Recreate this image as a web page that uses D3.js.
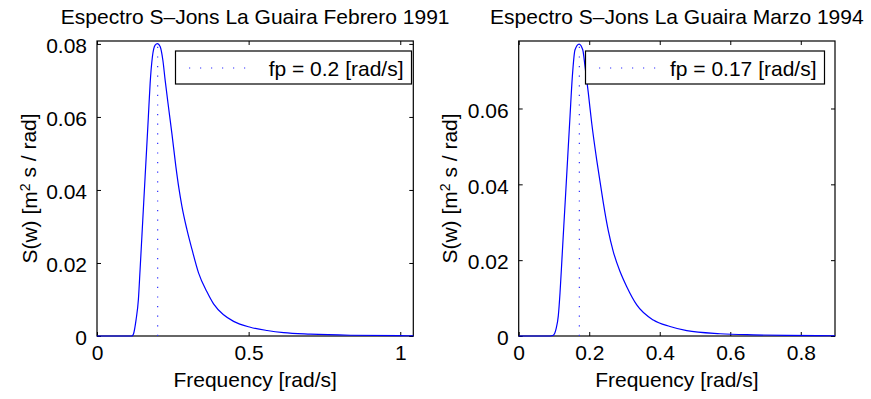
<!DOCTYPE html>
<html>
<head>
<meta charset="utf-8">
<script src="https://cdn.jsdelivr.net/npm/d3@7"></script>
<style>
  body { margin: 0; background: #fff; }
  svg text { font-family: "Liberation Sans", Arial, sans-serif; fill: #000; }
</style>
</head>
<body>
<div id="chart"></div>
<script>
// values
var freqFeb = [0, 0.05, 0.1147, 0.1200, 0.1289, 0.1365, 0.1421, 0.1481, 0.1540, 0.1633, 0.1692, 0.1752, 0.1827, 0.1917, 0.1993, 0.2082, 0.2171, 0.2247, 0.2356, 0.2469, 0.2601, 0.2700, 0.2799, 0.2964, 0.3130, 0.3348, 0.3625, 0.3843, 0.4174, 0.4504, 0.5056, 0.5608, 0.6157, 0.7039, 0.8361, 1.0013, 1.0433];
var specFeb = [0, 0, 0, 0.0005, 0.0045, 0.0100, 0.0182, 0.0274, 0.0365, 0.0507, 0.0598, 0.0692, 0.0765, 0.0797, 0.0801, 0.0793, 0.0756, 0.0701, 0.0628, 0.0555, 0.0464, 0.0405, 0.0356, 0.0292, 0.0238, 0.0173, 0.0121, 0.0088, 0.0058, 0.0040, 0.0024, 0.0015, 0.0009, 0.0005, 0.0002, 0.00008, 0.00007];

var freqMar = [0, 0.05, 0.089, 0.0982, 0.1058, 0.1123, 0.1172, 0.1226, 0.1279, 0.1328, 0.1396, 0.1455, 0.1521, 0.1597, 0.1712, 0.1816, 0.1881, 0.1974, 0.2071, 0.2213, 0.2335, 0.2400, 0.2542, 0.2684, 0.2874, 0.3064, 0.3348, 0.3818, 0.4292, 0.4766, 0.5710, 0.6655, 0.7603, 0.897];
var specMar = [0, 0, 0, 0.0002, 0.0018, 0.0053, 0.0114, 0.0202, 0.0290, 0.0369, 0.0482, 0.0579, 0.0684, 0.0755, 0.0770, 0.0755, 0.0711, 0.0641, 0.0561, 0.0464, 0.0390, 0.0351, 0.0277, 0.0222, 0.0170, 0.0130, 0.0082, 0.0042, 0.0025, 0.0014, 0.0006, 0.0003, 0.00015, 0.00007];

var peakFreqs = [0.2, 0.172];
var legendLabels = ["fp = 0.2 [rad/s]", "fp = 0.17 [rad/s]"];
var titles = ["Espectro S\u2013Jons La Guaira Febrero 1991", "Espectro S\u2013Jons La Guaira Marzo 1994"];
var xMaxes = [1.043, 0.897];
var yMaxes = [0.0808, 0.0778];
var xTicksFeb = [0, 0.5, 1];
var xTicksMar = [0, 0.2, 0.4, 0.6, 0.8];
var yTicksFeb = [0, 0.02, 0.04, 0.06, 0.08];
var yTicksMar = [0, 0.02, 0.04, 0.06];

var svgWidth = 871;
var svgHeight = 399;

var svg = d3.select("#chart")
  .append("svg")
  .attr("width", svgWidth)
  .attr("height", svgHeight);

// one panel per month
var panels = [
  {left: 97, freq: freqFeb, spec: specFeb, xTicks: xTicksFeb, yTicks: yTicksFeb,
   legendX: 175.5, legendW: 236, ylabelX: 36.5},
  {left: 518.7, freq: freqMar, spec: specMar, xTicks: xTicksMar, yTicks: yTicksMar,
   legendX: 585.5, legendW: 239, ylabelX: 457}
];
var plotTop = 41, plotBottom = 336, plotW = 316.3;

panels.forEach(function(p, i) {
  var width = plotW;
  var height = plotBottom - plotTop;
  var g = svg.append("g")
    .attr("transform", `translate(${p.left}, ${plotTop})`);

  var x = d3.scaleLinear().domain([0, xMaxes[i]]).range([0, width]);
  var y = d3.scaleLinear().domain([0, yMaxes[i]]).range([height, 0]);

  var fmt = d => d === 0 ? "0" : String(+d.toFixed(2));

  // axes, inward ticks on all sides
  var bottomAxis = d3.axisBottom(x).tickValues(p.xTicks).tickSize(-4).tickPadding(9).tickFormat(fmt);
  var topAxis = d3.axisTop(x).tickValues(p.xTicks).tickSize(-4).tickFormat("");
  var leftAxis = d3.axisLeft(y).tickValues(p.yTicks).tickSize(-4).tickPadding(10).tickFormat(fmt);
  var rightAxis = d3.axisRight(y).tickValues(p.yTicks).tickSize(-4).tickFormat("");

  var axes = [
    g.append("g").attr("transform", `translate(0, ${height})`).call(bottomAxis),
    g.append("g").call(topAxis),
    g.append("g").call(leftAxis),
    g.append("g").attr("transform", `translate(${width}, 0)`).call(rightAxis)
  ];
  axes.forEach(function(a) {
    a.select(".domain").remove();
    a.selectAll("line").attr("stroke", "#000").attr("stroke-width", 1);
    a.selectAll("text").attr("font-size", "21px").attr("fill", "#000")
      .attr("font-family", "Liberation Sans, Arial, sans-serif");
  });
  axes[0].selectAll("text").attr("dy", "0.71em");
  axes[2].selectAll("text").attr("dy", "0.42em");

  // box
  g.append("rect")
    .attr("x", 0).attr("y", 0)
    .attr("width", width).attr("height", height)
    .attr("fill", "none").attr("stroke", "#000").attr("stroke-width", 1.2);

  // peak frequency marker
  var peakSpec = d3.max(p.spec);
  g.append("line")
    .attr("x1", x(peakFreqs[i])).attr("x2", x(peakFreqs[i]))
    .attr("y1", y(0)).attr("y2", y(peakSpec))
    .attr("stroke", "#3030ff").attr("stroke-width", 1.2)
    .attr("stroke-dasharray", "1.2,8.4");

  // spectrum
  var line = d3.line()
    .x((d, k) => x(p.freq[k]))
    .y(d => y(d))
    .curve(d3.curveMonotoneX);

  g.append("path")
    .datum(p.spec)
    .attr("d", line)
    .attr("fill", "none")
    .attr("stroke", "#0000ff")
    .attr("stroke-width", 1.2);

  // legend
  var lx = p.legendX - p.left;
  var lg = g.append("g").attr("transform", `translate(${lx}, ${51 - plotTop})`);
  lg.append("rect")
    .attr("width", p.legendW).attr("height", 33)
    .attr("fill", "#fff").attr("stroke", "#000").attr("stroke-width", 1.2);
  lg.append("line")
    .attr("x1", 13.5).attr("x2", 72).attr("y1", 17).attr("y2", 17)
    .attr("stroke", "#3030ff").attr("stroke-width", 1.2)
    .attr("stroke-dasharray", "1.2,9.8");
  lg.append("text")
    .attr("x", p.legendW - 8).attr("y", 24.5)
    .attr("text-anchor", "end")
    .attr("font-size", "21px")
    .text(legendLabels[i]);

  // titles and axis labels
  g.append("text")
    .attr("x", width / 2).attr("y", 24 - plotTop)
    .attr("text-anchor", "middle")
    .attr("font-size", "21px")
    .text(titles[i]);

  g.append("text")
    .attr("x", width / 2).attr("y", 387 - plotTop)
    .attr("text-anchor", "middle")
    .attr("font-size", "21px")
    .text("Frequency [rad/s]");

  var yl = g.append("text")
    .attr("transform", "rotate(-90)")
    .attr("x", -height / 2).attr("y", p.ylabelX - p.left)
    .attr("text-anchor", "middle")
    .attr("font-size", "21px");
  yl.append("tspan").text("S(w) [m");
  yl.append("tspan").attr("dy", "-0.5em").attr("font-size", "14px").text("2");
  yl.append("tspan").attr("dy", "0.33em").text(" s / rad]");
});
</script>
</body>
</html>
